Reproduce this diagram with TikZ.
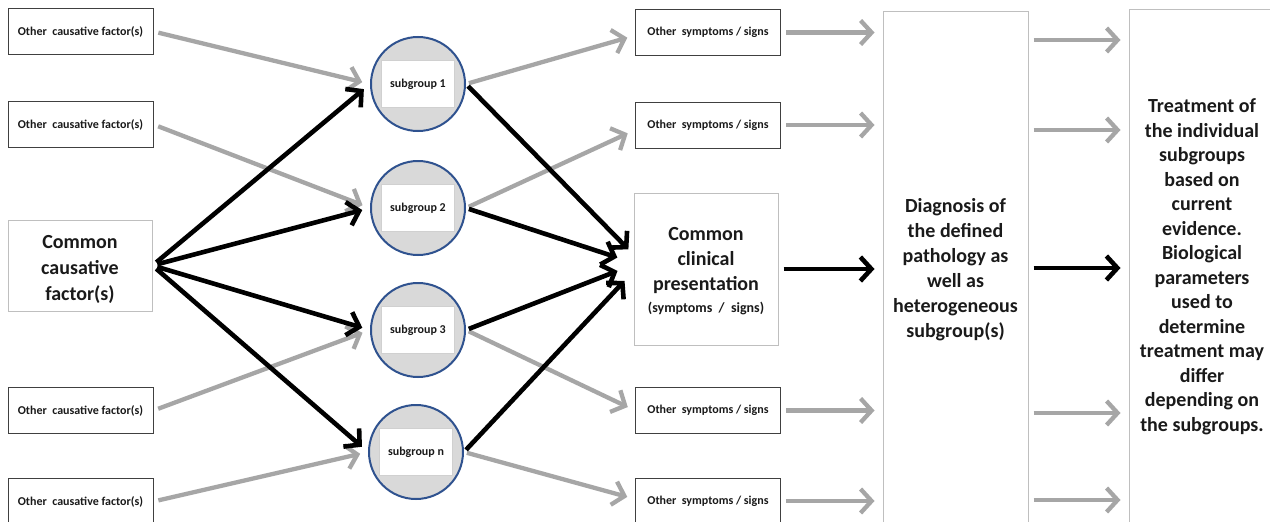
\documentclass[tikz,border=0pt]{standalone}
\usepackage{fontspec}
\setmainfont{Carlito}
\usetikzlibrary{arrows.meta,calc}
\definecolor{arrgray}{HTML}{A6A6A6}
\definecolor{circblue}{HTML}{2F528F}
\definecolor{circfill}{HTML}{D9D9D9}
\definecolor{lightbd}{HTML}{BFBFBF}
\definecolor{innerbd}{HTML}{D0D0D0}
\definecolor{darkbd}{HTML}{404040}
\definecolor{txt}{HTML}{1A1A1A}
\begin{document}
\begin{tikzpicture}[x=1pt,y=-1pt,
 smallbox/.style={draw=darkbd, line width=1pt, fill=white, minimum width=145pt, minimum height=46pt, inner sep=0pt, font=\fontsize{12}{14}\selectfont\bfseries, text=txt},
 bigbox/.style={draw=lightbd, line width=1pt, fill=white, inner sep=0pt},
 bigtext/.style={inner sep=0pt, align=center, font=\fontsize{20}{25}\selectfont\bfseries, text=txt},
 subcirc/.style={circle, draw=circblue, line width=2pt, fill=circfill, minimum size=94pt, inner sep=0pt},
 subrect/.style={draw=innerbd, line width=1pt, fill=white, minimum width=73pt, minimum height=47pt, inner sep=0pt, font=\fontsize{12}{14}\selectfont\bfseries, text=txt},
 garr/.style={draw=arrgray, line width=4.3pt, -{Straight Barb[length=11pt,width=24pt]}, shorten <=5pt, shorten >=8pt},
 barr/.style={draw=black, line width=4.6pt, -{Straight Barb[length=11pt,width=24pt]}, shorten <=5pt, shorten >=8pt},
]
\useasboundingbox (0,0) rectangle (1270,522);
\clip (0,0) rectangle (1270,522);
\fill[white] (0,0) rectangle (1270,522);

% left column
\node[smallbox] (cf1) at (80.5,31.5) {Other\ \ causative factor(s)};
\node[smallbox] (cf2) at (80.5,124.5) {Other\ \ causative factor(s)};
\node[smallbox] (cf3) at (80.5,410.5) {Other\ \ causative factor(s)};
\node[smallbox] (cf4) at (80.5,501.5) {Other\ \ causative factor(s)};
\node[bigbox, minimum width=144pt, minimum height=91pt] (common) at (80,265.5) {};
\node[bigtext, font=\fontsize{20}{26}\selectfont\bfseries] (commontxt) at (80,269.5) {Common\\causative\\factor(s)};

% subgroups
\node[subcirc] (sub1) at (418,84) {};
\node[subrect] (sub1t) at (sub1) {subgroup 1};
\node[subcirc] (sub2) at (418,208) {};
\node[subrect] (sub2t) at (sub2) {subgroup 2};
\node[subcirc] (sub3) at (418,330) {};
\node[subrect] (sub3t) at (sub3) {subgroup 3};
\node[subcirc] (subn) at (416,452) {};
\node[subrect] (subnt) at (subn) {subgroup n};

% symptoms column
\node[smallbox] (sym1) at (708,32.5) {Other\ \ symptoms / signs};
\node[smallbox] (sym2) at (708,125) {Other\ \ symptoms / signs};
\node[smallbox] (sym3) at (708,410.5) {Other\ \ symptoms / signs};
\node[smallbox] (sym4) at (708,501) {Other\ \ symptoms / signs};
\node[bigbox, minimum width=144pt, minimum height=152pt] (cc) at (706,269) {};
\node[bigtext] (cctxt) at (706,271.5)
  {Common\\clinical\\presentation\\[-3pt]{\fontsize{14}{17}\selectfont(symptoms\ \ /\ \ signs)}};

% diagnosis and treatment
\node[bigbox, minimum width=145pt, minimum height=512pt] (diag) at (955.5,267) {};
\node[bigtext] (diagtxt) at (955.5,269.5)
  {Diagnosis of\\the defined\\pathology as\\well as\\heterogeneous\\subgroup(s)};
\node[bigbox, minimum width=146pt, minimum height=514pt] (treat) at (1202,266) {};
\node[bigtext, font=\fontsize{20}{24.5}\selectfont\bfseries] (treattxt) at (1202,266.5)
  {Treatment of\\the individual\\subgroups\\based on\\current\\evidence.\\Biological\\parameters\\used to\\determine\\treatment may\\differ\\depending on\\the subgroups.};

% target coordinates on the clinical box
\coordinate (cc1) at (634,255);
\coordinate (cc2) at (625,260);
\coordinate (cc3) at (625,268);
\coordinate (cc4) at (630,275);

% causative factors -> subgroups
\draw[garr] (cf1.east) -- (sub1.west);
\draw[garr] (cf2.east) -- (sub2.west);
\draw[garr] (cf3.east) -- (sub3.west);
\draw[garr] (cf4.east) -- (subn.west);
\draw[barr] (common.east) -- (sub1.west);
\draw[barr] (common.east) -- (sub2.west);
\draw[barr] (common.east) -- (sub3.west);
\draw[barr] (common.east) -- (subn.west);

% subgroups -> symptoms
\draw[garr, shorten <=3pt] (sub1.east) -- ($(sym1.west)+(0,3)$);
\draw[garr, shorten <=3pt] (sub2.east) -- ($(sym2.west)+(0,5)$);
\draw[garr, shorten <=3pt] (sub3.east) -- (sym3.west);
\draw[garr, shorten <=3pt] (subn.east) -- ($(sym4.west)+(0,-2)$);
\draw[barr, shorten <=3pt] (sub1.east) -- (cc1);
\draw[barr, shorten <=3pt] (sub2.east) -- (cc2);
\draw[barr, shorten <=3pt] (sub3.east) -- (cc3);
\draw[barr, shorten <=3pt] (subn.east) -- (cc4);

% symptoms -> diagnosis
\draw[garr] (sym1.east) -- (sym1.east -| diag.west);
\draw[garr] (sym2.east) -- (sym2.east -| diag.west);
\draw[garr] (sym3.east) -- (sym3.east -| diag.west);
\draw[garr] (sym4.east) -- (sym4.east -| diag.west);
\draw[barr] (cc.east) -- (cc.east -| diag.west);

% diagnosis -> treatment
\draw[garr] (diag.east |- 0,40) -- (treat.west |- 0,40);
\draw[garr] (diag.east |- 0,130) -- (treat.west |- 0,130);
\draw[barr] (diag.east |- 0,268) -- (treat.west |- 0,268);
\draw[garr] (diag.east |- 0,413) -- (treat.west |- 0,413);
\draw[garr] (diag.east |- 0,500) -- (treat.west |- 0,500);
\end{tikzpicture}
\end{document}
